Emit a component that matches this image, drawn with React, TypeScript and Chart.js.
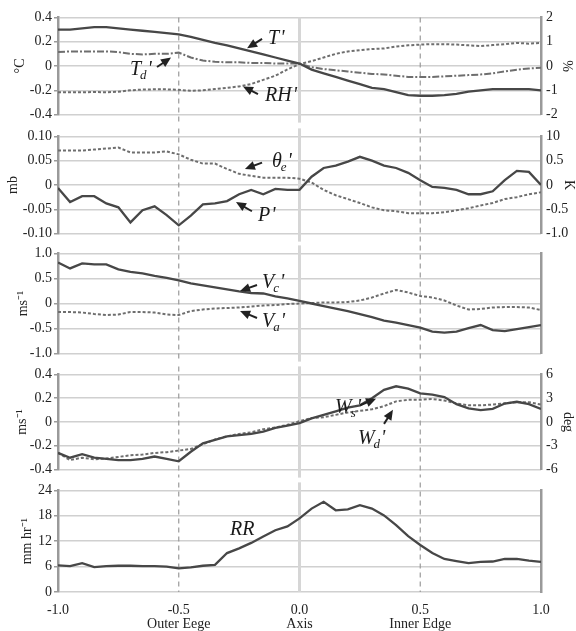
import React, { useEffect, useRef } from 'react';
import { Chart, registerables } from 'chart.js';
Chart.register(...registerables);

const SERIF = '"Liberation Serif", "Times New Roman", serif';

// x positions (normalised distance across the band)
const X = [-1, -0.95, -0.9, -0.85, -0.8, -0.75, -0.7, -0.65, -0.6, -0.55,
  -0.5, -0.45, -0.4, -0.35, -0.3, -0.25, -0.2, -0.15, -0.1, -0.05,
  0, 0.05, 0.1, 0.15, 0.2, 0.25, 0.3, 0.35, 0.4, 0.45,
  0.5, 0.55, 0.6, 0.65, 0.7, 0.75, 0.8, 0.85, 0.9, 0.95, 1];

const X_TICKS = [-1, -0.5, 0, 0.5, 1];
const X_TICK_NUMS = ['-1.0', '-0.5', '0.0', '0.5', '1.0'];
const X_TICK_NAMES = ['', 'Outer Eege', 'Axis', 'Inner Edge', ''];

// Panel 1
const T_PRIME = [0.30, 0.30, 0.31, 0.32, 0.32, 0.31, 0.30, 0.29, 0.28, 0.27,
  0.26, 0.24, 0.215, 0.19, 0.17, 0.145, 0.12, 0.095, 0.07, 0.045,
  0.02, -0.03, -0.06, -0.09, -0.12, -0.15, -0.18, -0.19, -0.215, -0.24,
  -0.245, -0.245, -0.24, -0.23, -0.21, -0.20, -0.19, -0.19, -0.19, -0.19, -0.20];
const TD_PRIME = [0.115, 0.12, 0.12, 0.12, 0.12, 0.115, 0.10, 0.095, 0.10, 0.10,
  0.11, 0.07, 0.045, 0.035, 0.03, 0.03, 0.025, 0.025, 0.02, 0.02,
  0.02, -0.01, -0.025, -0.035, -0.045, -0.055, -0.065, -0.07, -0.08, -0.09,
  -0.09, -0.09, -0.085, -0.08, -0.075, -0.07, -0.06, -0.045, -0.03, -0.02, -0.015];
const RH_PRIME = [-1.08, -1.08, -1.08, -1.07, -1.08, -1.06, -1.0, -0.97, -0.96, -0.96,
  -0.98, -1.02, -1.0, -0.95, -0.9, -0.84, -0.74, -0.57, -0.4, -0.14,
  0.08, 0.2, 0.35, 0.5, 0.6, 0.65, 0.7, 0.72, 0.8, 0.85,
  0.88, 0.9, 0.9, 0.88, 0.85, 0.82, 0.86, 0.9, 0.95, 0.92, 0.95];

// Panel 2
const P_PRIME = [-0.006, -0.035, -0.023, -0.023, -0.038, -0.046, -0.077, -0.052, -0.044, -0.062,
  -0.083, -0.063, -0.040, -0.038, -0.033, -0.019, -0.010, -0.019, -0.008, -0.010,
  -0.010, 0.017, 0.035, 0.040, 0.048, 0.058, 0.050, 0.040, 0.035, 0.025,
  0.010, -0.004, -0.006, -0.010, -0.019, -0.019, -0.013, 0.010, 0.029, 0.027, 0.0];
const THETA_E_PRIME = [0.71, 0.71, 0.71, 0.73, 0.75, 0.77, 0.67, 0.67, 0.67, 0.69,
  0.63, 0.52, 0.44, 0.44, 0.33, 0.23, 0.19, 0.15, 0.15, 0.15,
  0.13, 0.05, -0.10, -0.21, -0.29, -0.37, -0.46, -0.52, -0.54, -0.58,
  -0.58, -0.58, -0.56, -0.52, -0.48, -0.42, -0.37, -0.29, -0.25, -0.19, -0.15];

// Panel 3
const VC_PRIME = [0.82, 0.70, 0.80, 0.78, 0.78, 0.68, 0.63, 0.60, 0.55, 0.51,
  0.46, 0.40, 0.36, 0.32, 0.28, 0.24, 0.21, 0.20, 0.14, 0.10,
  0.05, 0.0, -0.05, -0.10, -0.15, -0.21, -0.27, -0.34, -0.38, -0.43,
  -0.48, -0.56, -0.58, -0.56, -0.49, -0.43, -0.53, -0.55, -0.51, -0.47, -0.43];
const VA_PRIME = [-0.17, -0.17, -0.18, -0.21, -0.23, -0.22, -0.17, -0.17, -0.18, -0.22,
  -0.23, -0.15, -0.12, -0.10, -0.09, -0.08, -0.06, -0.04, -0.03, -0.01,
  0.0, 0.01, 0.02, 0.02, 0.03, 0.06, 0.12, 0.2, 0.27, 0.22,
  0.15, 0.12, 0.06, -0.04, -0.12, -0.11, -0.08, -0.07, -0.07, -0.08, -0.13];

// Panel 4
const WS_PRIME = [-0.26, -0.30, -0.27, -0.30, -0.31, -0.32, -0.32, -0.31, -0.29, -0.31,
  -0.33, -0.25, -0.18, -0.15, -0.12, -0.11, -0.10, -0.08, -0.05, -0.03,
  -0.01, 0.03, 0.06, 0.09, 0.12, 0.14, 0.20, 0.27, 0.30, 0.28,
  0.24, 0.23, 0.21, 0.15, 0.115, 0.10, 0.11, 0.155, 0.17, 0.15, 0.11];
const WD_PRIME = [-3.9, -4.8, -4.5, -4.7, -4.6, -4.4, -4.2, -4.1, -3.9, -3.8,
  -3.6, -3.4, -2.8, -2.2, -1.8, -1.5, -1.3, -0.9, -0.7, -0.35,
  0.1, 0.5, 0.6, 0.9, 1.2, 1.4, 1.6, 2.0, 2.6, 2.8,
  2.8, 2.9, 2.7, 2.35, 2.1, 2.1, 2.2, 2.35, 2.5, 2.5, 2.2];

// Panel 5
const RR = [6.3, 6.1, 6.8, 5.9, 6.1, 6.2, 6.2, 6.1, 6.1, 6.0,
  5.6, 5.8, 6.2, 6.4, 9.2, 10.3, 11.6, 13.1, 14.6, 15.5,
  17.4, 19.7, 21.3, 19.3, 19.5, 20.5, 19.7, 18.1, 15.8, 13.2,
  11.1, 9.2, 7.8, 7.3, 6.8, 7.1, 7.2, 7.8, 7.8, 7.4, 7.1];

// Axis ticks and labels (ascending)
const P1_LEFT_TICKS = [-0.4, -0.2, 0, 0.2, 0.4];
const P1_LEFT_LABELS = ['-0.4', '-0.2', '0', '0.2', '0.4'];
const P1_RIGHT_TICKS = [-2, -1, 0, 1, 2];
const P1_RIGHT_LABELS = ['-2', '-1', '0', '1', '2'];
const P2_LEFT_TICKS = [-0.1, -0.05, 0, 0.05, 0.1];
const P2_LEFT_LABELS = ['-0.10', '-0.05', '0', '0.05', '0.10'];
const P2_RIGHT_TICKS = [-1, -0.5, 0, 0.5, 1];
const P2_RIGHT_LABELS = ['-1.0', '-0.5', '0', '0.5', '10'];
const P3_LEFT_TICKS = [-1, -0.5, 0, 0.5, 1];
const P3_LEFT_LABELS = ['-1.0', '-0.5', '0', '0.5', '1.0'];
const P4_LEFT_TICKS = [-0.4, -0.2, 0, 0.2, 0.4];
const P4_LEFT_LABELS = ['-0.4', '-0.2', '0', '0.2', '0.4'];
const P4_RIGHT_TICKS = [-6, -3, 0, 3, 6];
const P4_RIGHT_LABELS = ['-6', '-3', '0', '3', '6'];
const P5_LEFT_TICKS = [0, 6, 12, 18, 24];
const P5_LEFT_LABELS = ['0', '6', '12', '18', '24'];

type Note = { t: string; s?: string; x: number; y: number; tail?: [number, number]; head?: [number, number] };

const SOLID = '#474747';
const DASHC = '#6e6e6e';

function yAxis(pos: 'left' | 'right', ticks: number[], labels: string[], showLabels: boolean, title?: string, titlePad = 0) {
  return {
    type: 'linear',
    position: pos,
    min: ticks[0],
    max: ticks[ticks.length - 1],
    afterBuildTicks: (s: any) => { s.ticks = ticks.map((v) => ({ value: v })); },
    afterFit: (s: any) => { s.width = pos === 'left' ? 58 : 35; },
    ticks: {
      display: showLabels,
      callback: (_v: any, i: number) => labels[i],
      font: { family: SERIF, size: 14 },
      color: '#222',
      padding: pos === 'left' ? 2 : 5,
    },
    grid: pos === 'left'
      ? { display: true, color: '#d0d0d0', lineWidth: 1.5, drawTicks: true, tickLength: 4, tickColor: '#9a9a9a' }
      : { display: false, drawTicks: false },
    border: { display: true, color: '#9a9a9a', width: 2.5 },
    title: title
      ? { display: true, text: title, font: { family: SERIF, size: 14 }, color: '#222', padding: { top: titlePad, bottom: 0 } }
      : { display: false },
  };
}

function line(arr: number[], axis: string, dash: number[] | null) {
  return {
    data: X.map((x, i) => ({ x, y: arr[i] })),
    yAxisID: axis,
    borderColor: dash ? DASHC : SOLID,
    borderWidth: dash ? 2 : 2.3,
    borderDash: dash || [],
    pointRadius: 0,
    tension: 0,
    fill: false,
  };
}

const PANELS = [
  {
    top: 14, bottom: 118,
    left: yAxis('left', P1_LEFT_TICKS, P1_LEFT_LABELS, true, '°C', 11.6),
    right: yAxis('right', P1_RIGHT_TICKS, P1_RIGHT_LABELS, true, '%', 0.6),
    datasets: [line(T_PRIME, 'y', null), line(TD_PRIME, 'y', [7, 2, 2, 2]), line(RH_PRIME, 'y2', [3, 2])],
    notes: [
      { t: 'T', x: -0.13, y: 0.223, tail: [-0.155, 0.223], head: [-0.217, 0.146] },
      { t: 'T', s: 'd', x: -0.702, y: -0.031, tail: [-0.59, -0.008], head: [-0.532, 0.069] },
      { t: 'RH', x: -0.143, y: -0.246, tail: [-0.172, -0.231], head: [-0.234, -0.169] },
    ] as Note[],
  },
  {
    top: 133, bottom: 237,
    left: yAxis('left', P2_LEFT_TICKS, P2_LEFT_LABELS, true, 'mb', 4.6),
    right: yAxis('right', P2_RIGHT_TICKS, P2_RIGHT_LABELS, true, 'K', -1.5),
    datasets: [line(P_PRIME, 'y', null), line(THETA_E_PRIME, 'y2', [3, 2])],
    notes: [
      { t: 'θ', s: 'e', x: -0.114, y: 0.048, tail: [-0.155, 0.046], head: [-0.226, 0.033] },
      { t: 'P', x: -0.172, y: -0.063, tail: [-0.197, -0.054], head: [-0.263, -0.035] },
    ] as Note[],
  },
  {
    top: 253, bottom: 354,
    left: yAxis('left', P3_LEFT_TICKS, P3_LEFT_LABELS, true, 'ms⁻¹', 14.6),
    right: yAxis('right', P3_LEFT_TICKS, P3_LEFT_LABELS, false),
    datasets: [line(VC_PRIME, 'y', null), line(VA_PRIME, 'y', [3, 2])],
    notes: [
      { t: 'V', s: 'c', x: -0.155, y: 0.41, tail: [-0.176, 0.37], head: [-0.246, 0.25] },
      { t: 'V', s: 'a', x: -0.155, y: -0.37, tail: [-0.176, -0.29], head: [-0.246, -0.15] },
    ] as Note[],
  },
  {
    top: 371, bottom: 473,
    left: yAxis('left', P4_LEFT_TICKS, P4_LEFT_LABELS, true, 'ms⁻¹', 13.6),
    right: yAxis('right', P4_RIGHT_TICKS, P4_RIGHT_LABELS, true, 'deg', 0),
    datasets: [line(WS_PRIME, 'y', null), line(WD_PRIME, 'y2', [3, 2])],
    notes: [
      { t: 'W', s: 's', x: 0.147, y: 0.118, tail: [0.251, 0.141], head: [0.317, 0.196] },
      { t: 'W', s: 'd', x: 0.242, y: -0.141, tail: [0.35, -0.016], head: [0.387, 0.102] },
    ] as Note[],
  },
  {
    top: 490, bottom: 592,
    left: yAxis('left', P5_LEFT_TICKS, P5_LEFT_LABELS, true, 'mm hr⁻¹', 18.6),
    right: yAxis('right', P5_LEFT_TICKS, P5_LEFT_LABELS, false),
    datasets: [line(RR, 'y', null)],
    notes: [{ t: 'RR', x: -0.288, y: 14.6 }] as Note[],
  },
];

function drawArrow(ctx: CanvasRenderingContext2D, x1: number, y1: number, x2: number, y2: number) {
  const a = Math.atan2(y2 - y1, x2 - x1);
  const L = 10, W = 4.5;
  const c = Math.cos(a), s = Math.sin(a);
  ctx.save();
  ctx.strokeStyle = '#222';
  ctx.fillStyle = '#222';
  ctx.lineWidth = 2;
  ctx.setLineDash([]);
  ctx.beginPath();
  ctx.moveTo(x1, y1);
  ctx.lineTo(x2 - L * 0.7 * c, y2 - L * 0.7 * s);
  ctx.stroke();
  ctx.beginPath();
  ctx.moveTo(x2, y2);
  ctx.lineTo(x2 - L * c + W * s, y2 - L * s - W * c);
  ctx.lineTo(x2 - L * c - W * s, y2 - L * s + W * c);
  ctx.closePath();
  ctx.fill();
  ctx.restore();
}

export default function App() {
  const refs = useRef<(HTMLCanvasElement | null)[]>([]);

  useEffect(() => {
    const charts: Chart[] = [];
    PANELS.forEach((p, idx) => {
      const canvas = refs.current[idx];
      if (!canvas) return;
      const isFirst = idx === 0;
      const isLast = idx === PANELS.length - 1;
      const plugin = {
        id: 'panelDecor' + idx,
        beforeDatasetsDraw(chart: any) {
          const { ctx, chartArea } = chart;
          const xs = chart.scales.x;
          const y0 = isFirst ? chartArea.top : chartArea.top - 8;
          const y1 = isLast ? chartArea.bottom : chartArea.bottom + 8;
          ctx.save();
          const x0 = xs.getPixelForValue(0);
          ctx.strokeStyle = '#d6d6d6';
          ctx.lineWidth = 3;
          ctx.beginPath();
          ctx.moveTo(x0, y0);
          ctx.lineTo(x0, y1);
          ctx.stroke();
          ctx.strokeStyle = '#9a9a9a';
          ctx.lineWidth = 1.2;
          ctx.setLineDash([5, 4]);
          [-0.5, 0.5].forEach((v) => {
            const xp = xs.getPixelForValue(v);
            ctx.beginPath();
            ctx.moveTo(xp, y0);
            ctx.lineTo(xp, y1);
            ctx.stroke();
          });
          ctx.restore();
        },
        afterDatasetsDraw(chart: any) {
          const { ctx } = chart;
          const xs = chart.scales.x;
          const ys = chart.scales.y;
          p.notes.forEach((n) => {
            if (n.tail && n.head) {
              drawArrow(ctx, xs.getPixelForValue(n.tail[0]), ys.getPixelForValue(n.tail[1]),
                xs.getPixelForValue(n.head[0]), ys.getPixelForValue(n.head[1]));
            }
            const px = xs.getPixelForValue(n.x);
            const py = ys.getPixelForValue(n.y);
            ctx.save();
            ctx.fillStyle = '#1a1a1a';
            ctx.textBaseline = 'middle';
            ctx.textAlign = 'left';
            ctx.font = `italic 20px ${SERIF}`;
            ctx.fillText(n.t, px, py);
            let w = ctx.measureText(n.t).width;
            if (n.s) {
              ctx.font = `italic 13px ${SERIF}`;
              ctx.fillText(n.s, px + w - 1, py + 6);
              w += ctx.measureText(n.s).width - 1;
              ctx.font = `italic 20px ${SERIF}`;
            }
            if (n.t !== 'RR') ctx.fillText("'", px + w + 1, py);
            ctx.restore();
          });
        },
      };
      const chart = new Chart(canvas, {
        type: 'line',
        data: { datasets: p.datasets as any },
        options: {
          animation: false,
          responsive: false,
          maintainAspectRatio: false,
          layout: { padding: { top: 10, bottom: isLast ? 0 : 10, left: 0, right: 0 } },
          plugins: { legend: { display: false }, tooltip: { enabled: false }, title: { display: false } },
          scales: {
            x: {
              type: 'linear',
              min: -1,
              max: 1,
              display: isLast,
              afterBuildTicks: (s: any) => { s.ticks = X_TICKS.map((v) => ({ value: v })); },
              afterFit: (s: any) => { if (isLast) s.height = 39; },
              ticks: {
                autoSkip: false,
                maxRotation: 0,
                minRotation: 0,
                padding: 12,
                callback: (_v: any, i: number) => (X_TICK_NAMES[i] ? [X_TICK_NUMS[i], X_TICK_NAMES[i]] : X_TICK_NUMS[i]),
                font: { family: SERIF, size: 14, lineHeight: 0.95 },
                color: '#222',
              },
              grid: { display: false, drawTicks: false },
              border: { display: false },
            },
            y: p.left as any,
            y2: p.right as any,
          },
        },
        plugins: [plugin],
      });
      charts.push(chart);
    });
    return () => charts.forEach((c) => c.destroy());
  }, []);

  return (
    <div style={{ position: 'absolute', left: 0, top: 0, width: 576, height: 631, background: '#fff', overflow: 'hidden' }}>
      {PANELS.map((p, i) => {
        const isLast = i === PANELS.length - 1;
        const top = p.top - 10;
        const h = isLast ? 631 - top : p.bottom - p.top + 20;
        return (
          <canvas
            key={i}
            ref={(el) => { refs.current[i] = el; }}
            width={576}
            height={h}
            style={{ position: 'absolute', left: 0, top, width: 576, height: h }}
          />
        );
      })}
    </div>
  );
}
